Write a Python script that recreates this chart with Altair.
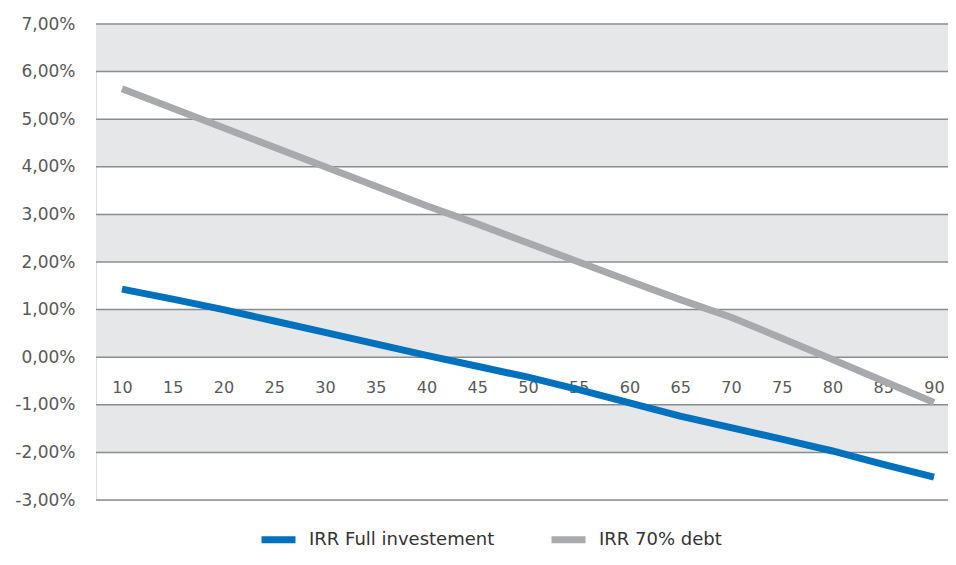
import altair as alt
import pandas as pd

categories = [10, 15, 20, 25, 30, 35, 40, 45, 50, 55, 60, 65, 70, 75, 80, 85, 90]
irr_full = [1.43, 1.22, 1.00, 0.76, 0.52, 0.28, 0.04, -0.19, -0.42, -0.68, -0.96, -1.24, -1.48, -1.72, -1.97, -2.25, -2.52]
irr_debt = [5.64, 5.23, 4.82, 4.41, 4.00, 3.59, 3.18, 2.80, 2.40, 2.00, 1.60, 1.21, 0.84, 0.40, -0.05, -0.50, -0.95]
series_names = ["IRR Full investement", "IRR 70% debt"]
series_colors = ["#0071bc", "#a7a9ac"]
y_ticks = [-3, -2, -1, 0, 1, 2, 3, 4, 5, 6, 7]
band_lo = [6, 4, 2, 0, -2]
band_hi = [7, 5, 3, 1, -1]

rows = []
for c, a, b in zip(categories, irr_full, irr_debt):
    rows.append({"x": c, "series": series_names[0], "v": a / 100})
    rows.append({"x": c, "series": series_names[1], "v": b / 100})
df = pd.DataFrame(rows)
bands = pd.DataFrame({"lo": [v / 100 for v in band_lo], "hi": [v / 100 for v in band_hi]})
grid = pd.DataFrame({"g": [v / 100 for v in y_ticks]})

FONT = "DejaVu Sans"
yscale = alt.Scale(domain=[-0.03, 0.07], nice=False, zero=False)

band_layer = alt.Chart(bands).mark_rect(color="#e6e7e8").encode(
    y=alt.Y("lo:Q", scale=yscale),
    y2="hi:Q",
)

grid_layer = alt.Chart(grid).mark_rule(color="#8c8c8c", strokeWidth=1.5).encode(
    y=alt.Y("g:Q", scale=yscale),
)

line_layer = alt.Chart(df).mark_line(strokeWidth=7, strokeCap="butt").encode(
    x=alt.X(
        "x:O",
        scale=alt.Scale(type="point", padding=0.394, align=0.65),
        axis=alt.Axis(
            title=None, orient="bottom", offset=-142.8, domain=False, ticks=False,
            labelPadding=22, labelAngle=0, labelFont=FONT, labelFontSize=16,
            labelColor="#595959",
        ),
    ),
    y=alt.Y(
        "v:Q",
        scale=yscale,
        axis=alt.Axis(
            title=None, values=[v / 100 for v in y_ticks], grid=False, domain=False,
            ticks=False, labelPadding=21, labelFont=FONT, labelFontSize=17,
            labelColor="#595959",
            labelExpr="replace(replace(format(datum.value, '.2%'), '.', ','), '\u2212', '-')",
        ),
    ),
    color=alt.Color(
        "series:N",
        scale=alt.Scale(domain=series_names, range=series_colors),
        legend=alt.Legend(
            title=None, orient="none", direction="horizontal", legendX=162, legendY=495,
            symbolType="stroke", symbolStrokeWidth=7, symbolSize=1156,
            labelFont=FONT, labelFontSize=18, labelColor="#333333", labelOffset=10,
            columnPadding=42, labelLimit=400,
        ),
    ),
    order=alt.Order("x:Q"),
)

chart = alt.layer(band_layer, grid_layer, line_layer).properties(
    width=852,
    height=476,
    autosize=alt.AutoSizeParams(type="none"),
    padding={"left": 88, "top": 16, "right": 0, "bottom": 52},
).configure_view(stroke=None).configure(background="white")

chart.save("out.html", embed_options={"renderer": "svg", "actions": False})
